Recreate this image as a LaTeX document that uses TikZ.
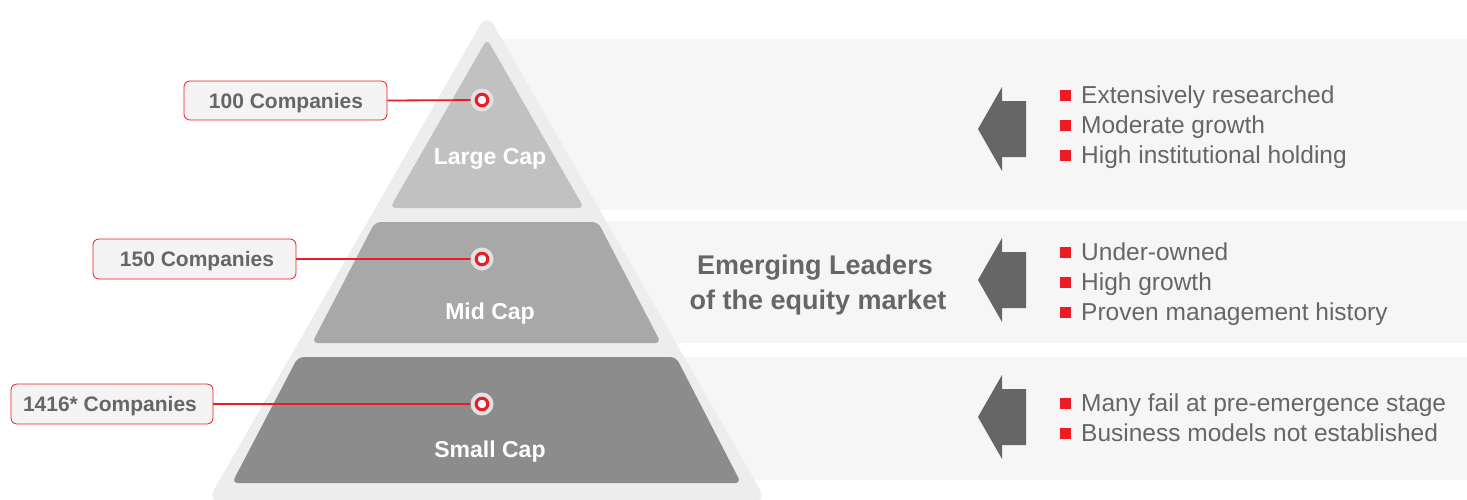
\documentclass[tikz,border=0pt]{standalone}
\usepackage{fontspec}
\setmainfont{Liberation Sans}
\definecolor{redm}{HTML}{EC1C24}
\definecolor{txtg}{HTML}{666666}
\definecolor{bandg}{HTML}{F6F6F6}
\definecolor{outerg}{HTML}{EDEDED}
\definecolor{largeg}{HTML}{C1C1C1}
\definecolor{midg}{HTML}{A8A8A8}
\definecolor{smallg}{HTML}{8C8C8C}
\definecolor{boxg}{HTML}{F4F4F4}
\begin{document}
\begin{tikzpicture}[x=1pt,y=-1pt,
  countbox/.style={draw=redm, line width=0.8pt, fill=boxg, rounded corners=6pt, inner sep=0pt},
  counttext/.style={anchor=base, inner sep=0pt, font=\fontsize{21}{24}\selectfont\bfseries, text=txtg},
  layerlabel/.style={anchor=base, inner sep=0pt, font=\fontsize{23}{26}\selectfont\bfseries, text=white},
  bullettext/.style={anchor=base west, inner sep=0pt, font=\fontsize{24.5}{28}\selectfont, text=txtg},
  bsq/.style={fill=redm, draw=none},
  leadtext/.style={anchor=base, inner sep=0pt, font=\fontsize{27}{34}\selectfont\bfseries, text=txtg},
  link/.style={draw=redm, line width=1.8pt},
  bigarrow/.style={fill=txtg, draw=none}]
\useasboundingbox (0,0) rectangle (1467,499);
% background bands
\fill[bandg] (500,39) rectangle (1467,210);
\fill[bandg] (500,221) rectangle (1467,343);
\fill[bandg] (500,357) rectangle (1467,480);
% outer pyramid
\fill[outerg, rounded corners=14pt] (487,13) -- (767,502) -- (207,502) -- cycle;
% layers
\fill[largeg, rounded corners=6pt] (487,39) -- (584,208) -- (390,208) -- cycle;
\fill[midg, rounded corners=6pt] (375,222) -- (598,222) -- (661,343) -- (312,343) -- cycle;
\fill[smallg, rounded corners=6pt] (298,357) -- (676,357) -- (741,483) -- (232,483) -- cycle;
\node[layerlabel] (lc) at (490,164) {Large Cap};
\node[layerlabel] (mc) at (490,319) {Mid Cap};
\node[layerlabel] (sc) at (490,457) {Small Cap};
% count boxes
\node[countbox, minimum width=203pt, minimum height=39pt] (b1) at (285.5,100.5) {};
\node[countbox, minimum width=203pt, minimum height=40pt] (b2) at (194.5,259) {};
\node[countbox, minimum width=202pt, minimum height=40pt] (b3) at (112,404) {};
\node[counttext] (c1) at (286,108) {100 Companies};
\node[counttext] (c2) at (197,266) {150 Companies};
\node[counttext] (c3) at (110,411) {1416* Companies};
\coordinate (m1) at (482,100);
\coordinate (m2) at (482,259);
\coordinate (m3) at (482,404);
\foreach \b/\m in {b1/m1,b2/m2,b3/m3}{
  \draw[link] (\b.east) -- (\m);
  \fill[outerg!90!gray] (\m) circle (11.5);
  \draw[redm, line width=3pt, fill=white] (\m) circle (5.8);
}
% middle text
\node[leadtext] (lead1) at (815,274) {Emerging Leaders};
\node[leadtext] (lead2) at (818,309) {of the equity market};
% arrows
\foreach \c in {129,280,417}{
  \fill[bigarrow] (978,\c) -- (1002,\c-42) -- (1002,\c-28) -- (1026,\c-28) -- (1026,\c+28) -- (1002,\c+28) -- (1002,\c+42) -- cycle;
}
% bullets
\foreach \yy/\t/\n in {95/Extensively researched/t1, 125/Moderate growth/t2, 155/High institutional holding/t3,
  252/Under-owned/t4, 282/High growth/t5, 312/Proven management history/t6,
  403/Many fail at pre-emergence stage/t7, 433/Business models not established/t8}{
  \fill[bsq] (1060,\yy-5.5) rectangle (1071,\yy+5.5);
  \node[bullettext] (\n) at (1081,\yy+8.5) {\t};
}
\end{tikzpicture}
\end{document}
